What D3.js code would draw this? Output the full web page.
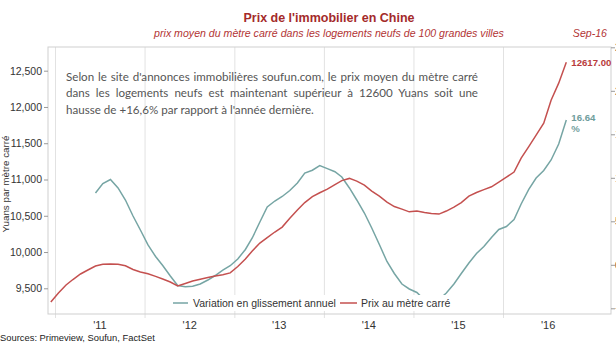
<!DOCTYPE html>
<html><head><meta charset="utf-8">
<script src="https://cdn.jsdelivr.net/npm/d3@7"></script>
<style>
html,body{margin:0;padding:0;background:#fff;}
svg{display:block;font-family:"Liberation Sans",Arial,sans-serif;}
</style></head>
<body>
<svg id="chart" width="616" height="346"></svg>
<script>
// ---- DATA ----
const months = ["2010-12",
 "2011-01","2011-02","2011-03","2011-04","2011-05","2011-06","2011-07","2011-08","2011-09","2011-10","2011-11","2011-12",
 "2012-01","2012-02","2012-03","2012-04","2012-05","2012-06","2012-07","2012-08","2012-09","2012-10","2012-11","2012-12",
 "2013-01","2013-02","2013-03","2013-04","2013-05","2013-06","2013-07","2013-08","2013-09","2013-10","2013-11","2013-12",
 "2014-01","2014-02","2014-03","2014-04","2014-05","2014-06","2014-07","2014-08","2014-09","2014-10","2014-11","2014-12",
 "2015-01","2015-02","2015-03","2015-04","2015-05","2015-06","2015-07","2015-08","2015-09","2015-10","2015-11","2015-12",
 "2016-01","2016-02","2016-03","2016-04","2016-05","2016-06","2016-07","2016-08","2016-09"];
// Prix au mètre carré (Yuans), Dec 2010 - Sep 2016
const priceValues = [9311,
 9435,9545,9621,9697,9752,9807,9831,9835,9831,9811,9759,9725,
 9700,9664,9628,9587,9532,9566,9601,9625,9649,9669,9686,9713,
 9800,9904,10014,10124,10200,10276,10344,10466,10579,10682,10764,10817,
 10868,10930,10985,11015,10978,10923,10840,10771,10689,10627,10592,10554,
 10565,10544,10530,10523,10565,10620,10682,10771,10820,10861,10899,10964,
 11033,11102,11295,11453,11612,11777,12094,12328,12617];
// Variation en glissement annuel (%), Jun 2011 - Sep 2016
const yoyMonths = months.slice(6);
const yoyValues = [8.25,9.34,9.80,8.83,7.45,5.61,4.00,
 2.28,0.95,-0.08,-1.29,-2.38,-2.52,-2.46,-2.21,-1.75,-1.23,-0.60,-0.11,
 0.67,1.76,3.08,4.92,6.64,7.33,7.85,8.54,9.40,10.55,10.87,11.41,
 11.05,10.70,10.09,8.83,7.45,5.95,4.23,2.33,0.38,-1.00,-2.21,-2.78,
 -3.18,-4.05,-4.51,-3.99,-3.24,-2.21,-1.00,0.21,1.30,2.10,3.14,4.06,
 4.40,5.21,6.99,8.66,9.98,10.84,12.05,13.89,16.64];
const leftTicks = [9500,10000,10500,11000,11500,12000,12500];
const rightTicks = [-5,0,5,10,15,20,25];
const yearTicks = [2011,2012,2013,2014,2015,2016];
const yearLabels = ["'11","'12","'13","'14","'15","'16"];
const seriesNames = ["Variation en glissement annuel","Prix au mètre carré"];
const title = "Prix de l'immobilier en Chine";
const subtitle = "prix moyen du mètre carré dans les logements neufs de 100 grandes villes";
const dateLabel = "Sep-16";
const yTitle = "Yuans par mètre carré";
const source = "Sources: Primeview, Soufun, FactSet";
const noteLines = ["Selon le site d'annonces immobilières soufun.com, le prix moyen du mètre carré",
 "dans les logements neufs est maintenant supérieur à 12600 Yuans soit une",
 "hausse de +16,6% par rapport à l'année dernière."];
const endPriceLabel = "12617.00";
const endYoyLabel = ["16.64","%"];

// ---- LAYOUT ----
const svg = d3.select("#chart");
const P = {l:48, r:611, t:47, b:314};
const RED = "#c4504f", TEAL = "#76a5a4";
const parse = d3.timeParse("%Y-%m");
const mid = s => { const d = parse(s); return new Date(d.getFullYear(), d.getMonth(), 15); };

const x = d3.scaleTime().domain([new Date(2011,0,1), new Date(2017,0,1)]).range([55, 592.8]);
const yL = d3.scaleLinear().domain([9500,12500]).range([288.3,70.7]);
const yR = d3.scaleLinear().domain([-5,25]).range([308.3,47.3]);

// titles
svg.append("text").attr("x",329).attr("y",22).attr("text-anchor","middle")
  .attr("font-size","12.5px").attr("font-weight","bold").attr("fill","#a42a2a").text(title);
svg.append("text").attr("x",329).attr("y",37).attr("text-anchor","middle")
  .attr("font-size","10.6px").attr("font-style","italic").attr("fill","#b23434").text(subtitle);
svg.append("text").attr("x",607).attr("y",37).attr("text-anchor","end")
  .attr("font-size","10.6px").attr("font-style","italic").attr("fill","#b23434").text(dateLabel);

// gridlines (year boundaries)
const gx = svg.append("g").attr("transform",`translate(0,${P.b})`)
  .call(d3.axisBottom(x).tickValues(yearTicks.map(y=>new Date(y,0,1))).tickSize(-(P.b-P.t)).tickSizeOuter(0).tickFormat(""));
gx.select(".domain").remove();
gx.selectAll(".tick line").attr("stroke","#e2e2e2").attr("y1",4).attr("y2",-(P.b-P.t));

// border
svg.append("rect").attr("x",P.l).attr("y",P.t).attr("width",P.r-P.l).attr("height",P.b-P.t)
  .attr("fill","none").attr("stroke","#cfcfcf");

// year labels
const gl = svg.append("g").attr("transform",`translate(0,${P.b})`)
  .call(d3.axisBottom(x).tickValues(yearTicks.map(y=>new Date(y,6,1))).tickSize(0).tickPadding(7)
    .tickFormat((d,i)=>yearLabels[i]));
gl.select(".domain").remove();
gl.selectAll("text").attr("font-size","11px").attr("fill","#333").attr("font-family","Liberation Sans, Arial, sans-serif");

// left axis
const ga = svg.append("g").attr("transform",`translate(${P.l},0)`)
  .call(d3.axisLeft(yL).tickValues(leftTicks).tickFormat(d3.format(",")).tickSize(4).tickPadding(2));
ga.select(".domain").remove();
ga.selectAll("line").attr("stroke","#999");
ga.selectAll("text").attr("font-size","10.5px").attr("fill","#333").attr("font-family","Liberation Sans, Arial, sans-serif");

// right axis (labels run past the page edge, as in the reference)
const gr = svg.append("g").attr("transform",`translate(${P.r},0)`)
  .call(d3.axisRight(yR).tickValues(rightTicks).tickSize(4).tickPadding(0));
gr.select(".domain").remove();
gr.selectAll("line").attr("stroke","#999");
gr.selectAll("text").attr("font-size","10.5px").attr("fill","#333").attr("font-family","Liberation Sans, Arial, sans-serif");

// y title
svg.append("text").attr("transform","translate(9,184) rotate(-90)").attr("text-anchor","middle")
  .attr("font-size","9.8px").attr("fill","#333").text(yTitle);

// lines
const priceData = months.map((m,i)=>({d:mid(m), v:priceValues[i]}));
const yoyData = yoyMonths.map((m,i)=>({d:mid(m), v:yoyValues[i]}));
svg.append("path").datum(yoyData).attr("fill","none").attr("stroke",TEAL).attr("stroke-width",1.5)
  .attr("d", d3.line().x(p=>x(p.d)).y(p=>yR(p.v)));
svg.append("path").datum(priceData).attr("fill","none").attr("stroke",RED).attr("stroke-width",1.5)
  .attr("d", d3.line().x(p=>x(p.d)).y(p=>yL(p.v)));

// end labels
const lp = priceData[priceData.length-1], ly = yoyData[yoyData.length-1];
svg.append("text").attr("x",x(lp.d)+5).attr("y",yL(lp.v)+3.5).attr("font-size","9.6px").attr("font-weight","bold")
  .attr("fill","#b83b3b").text(endPriceLabel);
svg.append("text").attr("x",x(ly.d)+5).attr("y",yR(ly.v)+1).attr("font-size","9.6px").attr("font-weight","bold")
  .attr("fill","#6f9d9c").text(endYoyLabel[0]);
svg.append("text").attr("x",x(ly.d)+5).attr("y",yR(ly.v)+12).attr("font-size","9.6px").attr("font-weight","bold")
  .attr("fill","#6f9d9c").text(endYoyLabel[1]);

// legend
const lg = svg.append("g");
lg.append("rect").attr("x",166).attr("y",295).attr("width",283).attr("height",16).attr("fill","#fff");
lg.append("line").attr("x1",173).attr("x2",188).attr("y1",303).attr("y2",303).attr("stroke",TEAL).attr("stroke-width",1.5);
lg.append("text").attr("x",193).attr("y",307).attr("font-size","10.5px").attr("fill","#333").text(seriesNames[0]);
lg.append("line").attr("x1",340).attr("x2",357).attr("y1",303).attr("y2",303).attr("stroke",RED).attr("stroke-width",1.5);
lg.append("text").attr("x",361).attr("y",307).attr("font-size","10.5px").attr("fill","#333").text(seriesNames[1]);

// note (justified)
const noteX = 66, noteW = 412;
noteLines.forEach((ln,i)=>{
  const t = svg.append("text").attr("x",noteX).attr("y",81+i*16.3).attr("font-family","Lato, 'Open Sans', sans-serif")
    .attr("font-size","11.6px").attr("fill","#555").text(ln);
  if (i < noteLines.length-1) {
    const w = t.node().getComputedTextLength();
    const n = ln.split(" ").length-1;
    t.attr("word-spacing", (noteW - w)/n);
  }
});

// source
svg.append("text").attr("x",0).attr("y",341).attr("font-size","9.4px").attr("fill","#222").text(source);
</script>
</body></html>
